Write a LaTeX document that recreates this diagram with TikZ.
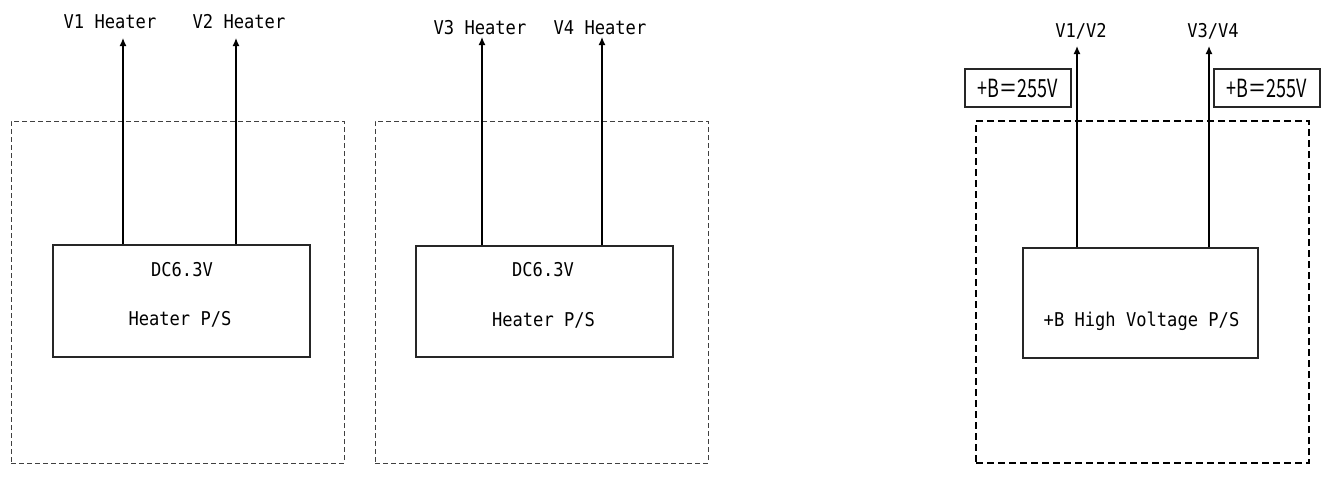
\documentclass[tikz,border=0pt]{standalone}
\usepackage{fontspec}
\usetikzlibrary{arrows.meta}
\newfontfamily\labelfont[FakeStretch=0.9]{DejaVu Sans Mono}
\newfontfamily\tagfont[FakeStretch=0.72]{Noto Sans CJK JP}
\tikzset{
  lbl/.style={font=\labelfont\fontsize{19}{22}\selectfont, inner sep=0pt, anchor=base},
  psbox/.style={draw=black!85, line width=1.2pt, minimum width=257pt, inner sep=0pt},
  grp/.style={draw=black!75, line width=1pt, dash pattern=on 5pt off 3pt, inner sep=0pt},
  hvgrp/.style={draw=black, line width=2pt, dash pattern=on 7pt off 4pt, inner sep=0pt},
  tagbox/.style={draw=black!85, line width=1.2pt, minimum width=106pt, minimum height=38pt,
    inner sep=0pt, font=\tagfont\fontsize{25}{28}\selectfont},
  feed/.style={line width=1.3pt, -{Latex[length=8pt,width=7pt]}}
}
\begin{document}
\begin{tikzpicture}[x=1pt,y=-1pt]
\useasboundingbox (0,0) rectangle (1325,477);

% dashed enclosures
\node[grp, minimum width=333pt, minimum height=342pt] (g1) at (177.5,292) {};
\node[grp, minimum width=333pt, minimum height=342pt] (g2) at (541.5,292) {};
\node[hvgrp, minimum width=333pt, minimum height=342pt] (g3) at (1142.5,292) {};

% heater supplies
\node[psbox, minimum height=112pt] (ps1) at (181.5,301) {};
\node[lbl] (ps1a) at (182,276) {DC6.3V};
\node[lbl] (ps1b) at (180,325) {Heater P/S};
\node[psbox, minimum height=111pt] (ps2) at (544.5,301.5) {};
\node[lbl] (ps2a) at (543,276.5) {DC6.3V};
\node[lbl] (ps2b) at (543.5,326.5) {Heater P/S};

% high voltage supply
\node[psbox, minimum width=235pt, minimum height=110pt] (hv) at (1140.5,303) {};
\node[lbl] (hvt) at (1141.5,326) {+B High Voltage P/S};

% outputs
\coordinate (t1) at (123,38);
\coordinate (t2) at (236,38);
\coordinate (t3) at (482,37);
\coordinate (t4) at (602,37);
\coordinate (t5) at (1077,46);
\coordinate (t6) at (1209,46);
\draw[feed] (ps1.north -| t1) -- (t1);
\draw[feed] (ps1.north -| t2) -- (t2);
\draw[feed] (ps2.north -| t3) -- (t3);
\draw[feed] (ps2.north -| t4) -- (t4);
\draw[feed] (hv.north -| t5) -- (t5);
\draw[feed] (hv.north -| t6) -- (t6);

\node[lbl] (o1) at (110,28) {V1 Heater};
\node[lbl] (o2) at (239,28) {V2 Heater};
\node[lbl] (o3) at (480,34) {V3 Heater};
\node[lbl] (o4) at (600,34) {V4 Heater};
\node[lbl] (o5) at (1081,37) {V1/V2};
\node[lbl] (o6) at (1213,37) {V3/V4};

% supply voltage tags
\node[tagbox] (b1) at (1018,88) {+B＝255V};
\node[tagbox] (b2) at (1267,88) {+B＝255V};
\end{tikzpicture}
\end{document}
